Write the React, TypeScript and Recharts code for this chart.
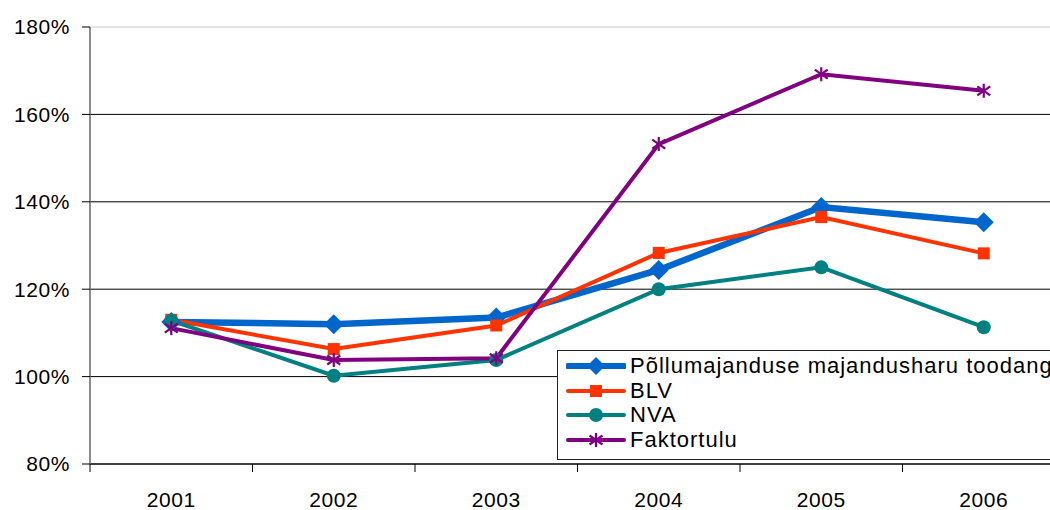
import React from "react";
import { LineChart, Line, XAxis, YAxis, CartesianGrid } from "recharts";

const years = ["2001", "2002", "2003", "2004", "2005", "2006"];
const toodang = [112.5, 112.0, 113.5, 124.4, 138.8, 135.3];
const blv = [113.0, 106.3, 111.7, 128.3, 136.5, 128.2];
const nva = [112.8, 100.2, 103.8, 120.0, 125.0, 111.3];
const faktortulu = [111.1, 103.8, 104.2, 153.2, 169.2, 165.4];
const yTicks = [80, 100, 120, 140, 160, 180];

const data = years.map((year, i) => ({
  year,
  toodang: toodang[i],
  blv: blv[i],
  nva: nva[i],
  faktortulu: faktortulu[i],
}));

const FONT = "'Liberation Sans', Arial, sans-serif";
const BLUE = "#0066CC";
const RED = "#FF3300";
const TEAL = "#008080";
const PURPLE = "#800080";
const BAND = 162.5;

function Diamond({ cx, cy, s = 10 }: any) {
  return <path d={`M${cx},${cy - s}L${cx + s},${cy}L${cx},${cy + s}L${cx - s},${cy}Z`} fill={BLUE} />;
}
function Square({ cx, cy, s = 6 }: any) {
  return <rect x={cx - s} y={cy - s} width={s * 2} height={s * 2} fill={RED} />;
}
function Dot({ cx, cy, r = 7 }: any) {
  return <circle cx={cx} cy={cy} r={r} fill={TEAL} />;
}
function Star({ cx, cy, s = 7 }: any) {
  return (
    <g stroke={PURPLE} strokeWidth={2.2}>
      <line x1={cx} y1={cy - s} x2={cx} y2={cy + s} />
      <line x1={cx - 6.5} y1={cy - 4.5} x2={cx + 6.5} y2={cy + 4.5} />
      <line x1={cx - 6.5} y1={cy + 4.5} x2={cx + 6.5} y2={cy - 4.5} />
    </g>
  );
}

const dotFn = (Shape: any) => (p: any) => <Shape key={`m-${p.index}`} cx={p.cx} cy={p.cy} />;

function YearTick({ x, y, payload }: any) {
  return (
    <g>
      <line x1={x - BAND / 2} y1={y} x2={x - BAND / 2} y2={y + 8} stroke="#000" />
      <text x={x} y={y + 43} textAnchor="middle" fontSize={21} letterSpacing={0.6} fill="#000" fontFamily={FONT}>
        {payload.value}
      </text>
    </g>
  );
}

const legendItems = [
  { name: "Põllumajanduse majandusharu toodangu", color: BLUE, width: 6, Shape: Diamond, size: 9 },
  { name: "BLV", color: RED, width: 4, Shape: Square, size: 6 },
  { name: "NVA", color: TEAL, width: 4, Shape: Dot, size: 7 },
  { name: "Faktortulu", color: PURPLE, width: 4, Shape: Star, size: 7 },
];

export default function App() {
  return (
    <div style={{ position: "absolute", left: 0, top: 0, width: 1050, height: 510, overflow: "hidden", background: "#fff", fontFamily: FONT }}>
      <LineChart width={1070} height={510} data={data} margin={{ top: 27, right: 5, bottom: 0, left: 0 }}>
        <CartesianGrid
          vertical={false}
          horizontal={(p: any) => (
            <line
              key={`h-${p.index}-${p.y1}`}
              x1={p.x1}
              x2={p.x2}
              y1={p.y1}
              y2={p.y2}
              stroke={p.y1 < 35 ? "#c8c8c8" : "#000"}
              strokeWidth={1}
            />
          )}
        />
        <XAxis
          dataKey="year"
          scale="band"
          height={46}
          axisLine={{ stroke: "#000" }}
          tickLine={false}
          tickSize={0}
          tickMargin={0}
          tick={<YearTick />}
          interval={0}
        />
        <YAxis
          domain={[80, 180]}
          ticks={yTicks}
          width={90}
          tickFormatter={(v: number) => `${v}%`}
          axisLine={{ stroke: "#666", strokeWidth: 1.5 }}
          tickLine={{ stroke: "#000" }}
          tickSize={8}
          tickMargin={12}
          tick={{ fill: "#000", fontSize: 21, fontFamily: FONT, letterSpacing: 0.6 }}
          allowDataOverflow
        />
        <Line dataKey="toodang" stroke={BLUE} strokeWidth={6.5} dot={dotFn(Diamond)} activeDot={false} isAnimationActive={false} />
        <Line dataKey="blv" stroke={RED} strokeWidth={4} dot={dotFn(Square)} activeDot={false} isAnimationActive={false} />
        <Line dataKey="nva" stroke={TEAL} strokeWidth={4} dot={dotFn(Dot)} activeDot={false} isAnimationActive={false} />
        <Line dataKey="faktortulu" stroke={PURPLE} strokeWidth={4} dot={dotFn(Star)} activeDot={false} isAnimationActive={false} />
      </LineChart>
      <div
        style={{
          position: "absolute",
          left: 557,
          top: 350,
          width: 540,
          height: 110,
          border: "1px solid #222",
          background: "#fff",
          paddingTop: 3,
          boxSizing: "border-box",
        }}
      >
        {legendItems.map((it) => (
          <div key={it.name} style={{ display: "flex", alignItems: "center", height: 24.5 }}>
            <svg width={60} height={24} style={{ marginLeft: 8, flex: "none" }}>
              <line x1={2} x2={58} y1={12} y2={12} stroke={it.color} strokeWidth={it.width} strokeLinecap="round" />
              <it.Shape cx={30} cy={12} s={it.size} r={it.size} />
            </svg>
            <span style={{ fontSize: 22, marginLeft: 4, whiteSpace: "nowrap", color: "#000", letterSpacing: 1 }}>{it.name}</span>
          </div>
        ))}
      </div>
    </div>
  );
}
